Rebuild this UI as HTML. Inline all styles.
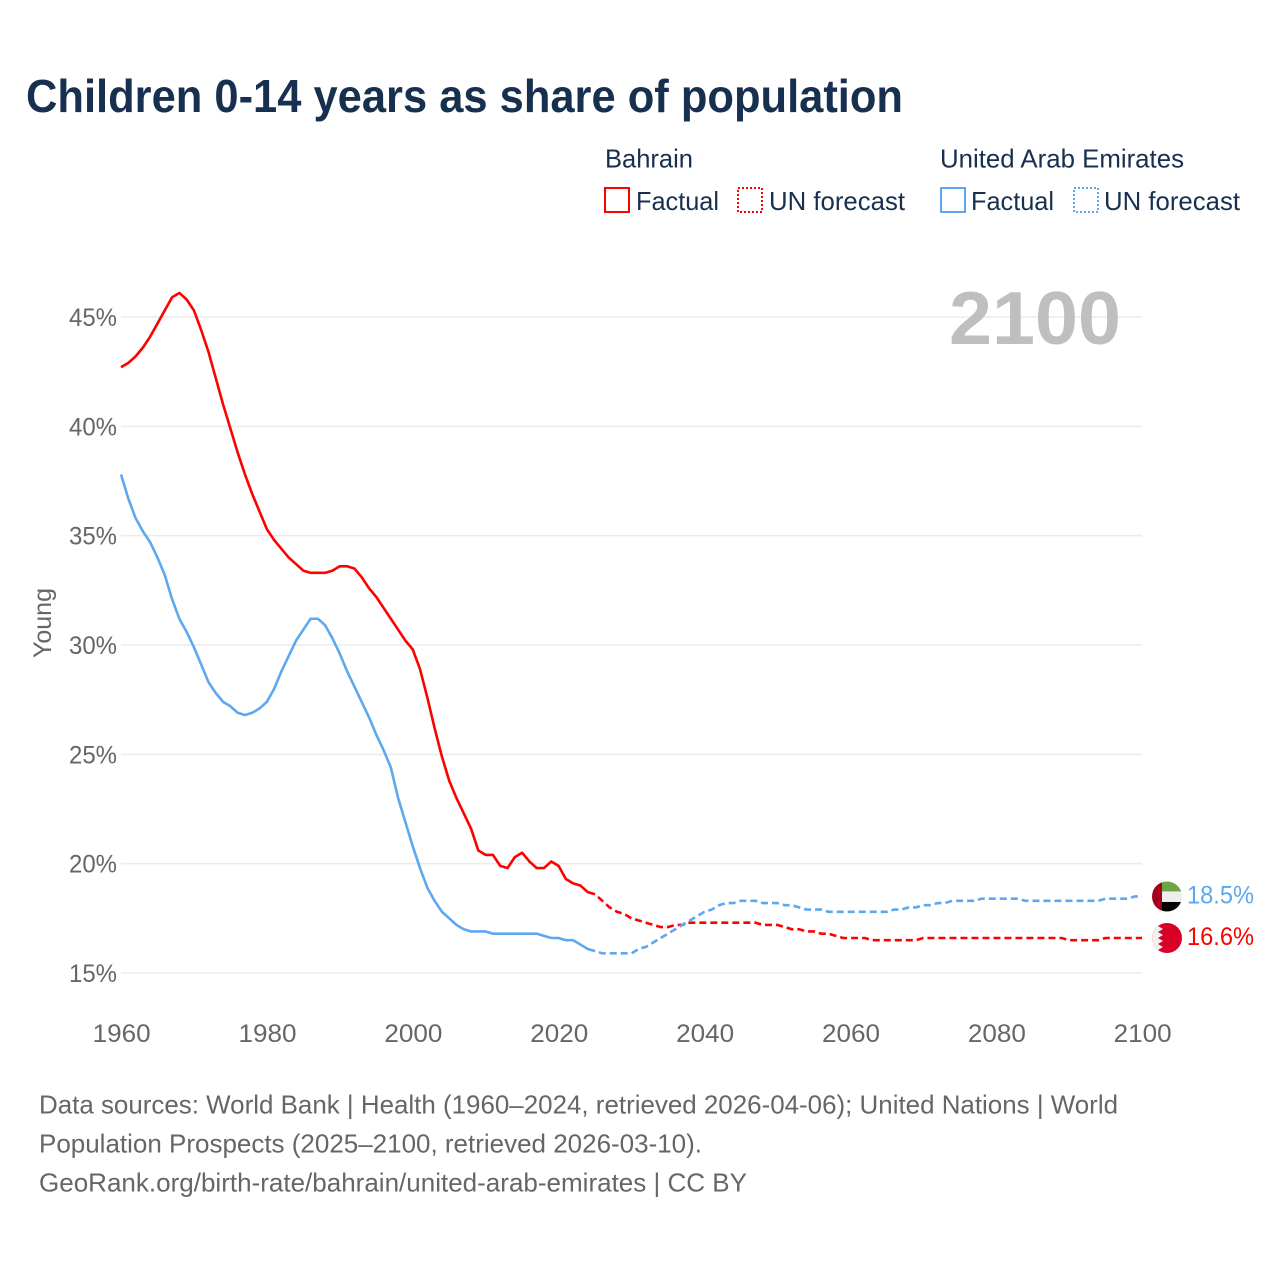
<!DOCTYPE html>
<html lang="en">
<head>
<meta charset="utf-8">
<title>Children 0-14 years as share of population</title>
<style>
html,body{margin:0;padding:0;background:#fff;}
svg{display:block;font-family:"Liberation Sans",sans-serif;}
</style>
</head>
<body>
<svg id="chart" width="1280" height="1280" viewBox="0 0 1280 1280" xmlns="http://www.w3.org/2000/svg">
  <defs>
    <clipPath id="flag-clip"><circle cx="0" cy="0" r="15"></circle></clipPath>
  </defs>
  <rect x="0" y="0" width="1280" height="1280" fill="#ffffff"></rect>
  <text x="26" y="112" font-size="46" font-weight="700" fill="#18304f" textLength="877" lengthAdjust="spacingAndGlyphs">Children 0-14 years as share of population</text>

  <g font-size="26" fill="#18304f">
    <text x="605" y="167.5" textLength="88" lengthAdjust="spacingAndGlyphs">Bahrain</text>
    <text x="940" y="167.5" textLength="244" lengthAdjust="spacingAndGlyphs">United Arab Emirates</text>
    <rect x="605" y="188" width="24" height="24" fill="none" stroke="#ff0000" stroke-width="2"></rect>
    <text x="636" y="210" textLength="83" lengthAdjust="spacingAndGlyphs">Factual</text>
    <rect x="738" y="188" width="24" height="24" fill="none" stroke="#ff0000" stroke-width="2" stroke-dasharray="2 2"></rect>
    <text x="769" y="210" textLength="136" lengthAdjust="spacingAndGlyphs">UN forecast</text>
    <rect x="941" y="188" width="24" height="24" fill="none" stroke="#5da8ee" stroke-width="2"></rect>
    <text x="971" y="210" textLength="83" lengthAdjust="spacingAndGlyphs">Factual</text>
    <rect x="1074" y="188" width="24" height="24" fill="none" stroke="#5da8ee" stroke-width="2" stroke-dasharray="2 2"></rect>
    <text x="1104" y="210" textLength="136" lengthAdjust="spacingAndGlyphs">UN forecast</text>
  </g>

  <g id="grid"></g>
  <text x="949" y="344" font-size="75" font-weight="700" fill="#bfbfbf" textLength="172" lengthAdjust="spacingAndGlyphs">2100</text>
  <g id="y-ticks" font-size="25" fill="#666666"></g>
  <g id="x-ticks" font-size="25" fill="#666666"></g>
  <text transform="translate(51 623) rotate(-90)" text-anchor="middle" font-size="25" fill="#666666" textLength="70" lengthAdjust="spacingAndGlyphs">Young</text>
  <g id="series"></g>
  <g id="ends"></g>

  <g font-size="26" fill="#666666">
    <text x="39" y="1113.5" textLength="1079" lengthAdjust="spacingAndGlyphs">Data sources: World Bank | Health (1960–2024, retrieved 2026-04-06); United Nations | World</text>
    <text x="39" y="1152.5" textLength="663" lengthAdjust="spacingAndGlyphs">Population Prospects (2025–2100, retrieved 2026-03-10).</text>
    <text x="39" y="1191.5" textLength="708" lengthAdjust="spacingAndGlyphs">GeoRank.org/birth-rate/bahrain/united-arab-emirates | CC BY</text>
  </g>
</svg>
<script>
const startYear = 1960;
const lastFactualYear = 2025;
const yTickValues = [15, 20, 25, 30, 35, 40, 45];
const xTickYears = [1960, 1980, 2000, 2020, 2040, 2060, 2080, 2100];
const bahrainValues = [
  42.7,42.9,43.2,43.6,44.1,44.7,45.3,45.9,46.1,45.8,
  45.3,44.4,43.4,42.2,41.0,39.9,38.8,37.8,36.9,36.1,
  35.3,34.8,34.4,34.0,33.7,33.4,33.3,33.3,33.3,33.4,
  33.6,33.6,33.5,33.1,32.6,32.2,31.7,31.2,30.7,30.2,
  29.8,28.9,27.6,26.2,24.9,23.8,23.0,22.3,21.6,20.6,
  20.4,20.4,19.9,19.8,20.3,20.5,20.1,19.8,19.8,20.1,
  19.9,19.3,19.1,19.0,18.7,18.6,18.3,18.0,17.8,17.7,
  17.5,17.4,17.3,17.2,17.1,17.1,17.2,17.2,17.3,17.3,
  17.3,17.3,17.3,17.3,17.3,17.3,17.3,17.3,17.2,17.2,
  17.2,17.1,17.0,17.0,16.9,16.9,16.8,16.8,16.7,16.6,
  16.6,16.6,16.6,16.5,16.5,16.5,16.5,16.5,16.5,16.5,
  16.6,16.6,16.6,16.6,16.6,16.6,16.6,16.6,16.6,16.6,
  16.6,16.6,16.6,16.6,16.6,16.6,16.6,16.6,16.6,16.6,
  16.5,16.5,16.5,16.5,16.5,16.6,16.6,16.6,16.6,16.6,16.6
];
const uaeValues = [
  37.8,36.7,35.8,35.2,34.7,34.0,33.2,32.1,31.2,30.6,
  29.9,29.1,28.3,27.8,27.4,27.2,26.9,26.8,26.9,27.1,
  27.4,28.0,28.8,29.5,30.2,30.7,31.2,31.2,30.9,30.3,
  29.6,28.8,28.1,27.4,26.7,25.9,25.2,24.4,23.0,21.9,
  20.8,19.8,18.9,18.3,17.8,17.5,17.2,17.0,16.9,16.9,
  16.9,16.8,16.8,16.8,16.8,16.8,16.8,16.8,16.7,16.6,
  16.6,16.5,16.5,16.3,16.1,16.0,15.9,15.9,15.9,15.9,
  15.9,16.1,16.2,16.4,16.6,16.8,17.0,17.2,17.4,17.6,
  17.8,17.9,18.1,18.2,18.2,18.3,18.3,18.3,18.2,18.2,
  18.2,18.1,18.1,18.0,17.9,17.9,17.9,17.8,17.8,17.8,
  17.8,17.8,17.8,17.8,17.8,17.8,17.9,17.9,18.0,18.0,
  18.1,18.1,18.2,18.2,18.3,18.3,18.3,18.3,18.4,18.4,
  18.4,18.4,18.4,18.4,18.3,18.3,18.3,18.3,18.3,18.3,
  18.3,18.3,18.3,18.3,18.3,18.4,18.4,18.4,18.4,18.5,18.5
];
const bahrainEndLabel = "16.6%";
const uaeEndLabel = "18.5%";

const SVG_NS = "http://www.w3.org/2000/svg";
const LEFT = 121, RIGHT = 1142;
function xScale(year) { return LEFT + (year - 1960) * (RIGHT - LEFT) / 140; }
function yScale(v) { return 973 - (v - 15) * (973 - 317) / 30; }
function make(tag, attrs) {
  const el = document.createElementNS(SVG_NS, tag);
  for (const k in attrs) el.setAttribute(k, attrs[k]);
  return el;
}
function pointsFor(values, fromYear, toYear) {
  const pts = [];
  values.forEach(function (v, i) {
    const yr = startYear + i;
    if (yr >= fromYear && yr <= toYear) pts.push(xScale(yr).toFixed(2) + "," + yScale(v).toFixed(2));
  });
  return pts.join(" ");
}

const grid = document.getElementById("grid");
const yTicks = document.getElementById("y-ticks");
yTickValues.forEach(function (v) {
  const line = make("line", { x1: LEFT, x2: RIGHT, y1: yScale(v), y2: yScale(v), stroke: "#ebebeb", "stroke-width": 1.5 });
  
  
  grid.appendChild(line);
  const t = make("text", { x: 117, y: yScale(v) + 9, "text-anchor": "end", textLength: 48, lengthAdjust: "spacingAndGlyphs" });
  
  
  t.textContent = v + "%";
  yTicks.appendChild(t);
});

const xTicks = document.getElementById("x-ticks");
xTickYears.forEach(function (yr) {
  const t = make("text", { x: xScale(yr) + 0.7, y: 1042, "text-anchor": "middle", textLength: 58, lengthAdjust: "spacingAndGlyphs" });
  
  
  t.textContent = yr;
  xTicks.appendChild(t);
});

const seriesG = document.getElementById("series");
const bahrainFactual = make("polyline", { points: pointsFor(bahrainValues, 1960, lastFactualYear), fill: "none", stroke: "#ff0000", "stroke-width": 2.6, "stroke-linejoin": "round" });


const bahrainForecast = make("polyline", { points: pointsFor(bahrainValues, lastFactualYear, 2100), fill: "none", stroke: "#ff0000", "stroke-width": 2.6, "stroke-dasharray": "7 4", "stroke-dashoffset": 7 });


const uaeFactual = make("polyline", { points: pointsFor(uaeValues, 1960, lastFactualYear), fill: "none", stroke: "#5da8ee", "stroke-width": 2.6, "stroke-linejoin": "round" });


const uaeForecast = make("polyline", { points: pointsFor(uaeValues, lastFactualYear, 2100), fill: "none", stroke: "#5da8ee", "stroke-width": 2.6, "stroke-dasharray": "7 4", "stroke-dashoffset": 7 });


seriesG.appendChild(bahrainForecast);
seriesG.appendChild(uaeForecast);
seriesG.appendChild(bahrainFactual);
seriesG.appendChild(uaeFactual);

const ends = document.getElementById("ends");
const uaeY = yScale(uaeValues[uaeValues.length - 1]);
const bahY = yScale(bahrainValues[bahrainValues.length - 1]);

const uaeFlag = make("g", { transform: "translate(1167 " + uaeY + ")", "clip-path": "url(#flag-clip)" });


uaeFlag.appendChild(make("rect", { x: -15, y: -15, width: 30, height: 10, fill: "#6da544" }));
uaeFlag.appendChild(make("rect", { x: -15, y: -5, width: 30, height: 10.5, fill: "#eeeeee" }));
uaeFlag.appendChild(make("rect", { x: -15, y: 5.5, width: 30, height: 9.5, fill: "#000000" }));
uaeFlag.appendChild(make("rect", { x: -15, y: -15, width: 10, height: 30, fill: "#a2001d" }));
ends.appendChild(uaeFlag);

const bahFlag = make("g", { transform: "translate(1167 " + bahY + ")", "clip-path": "url(#flag-clip)" });


bahFlag.appendChild(make("rect", { x: -15, y: -15, width: 30, height: 30, fill: "#d80027" }));
bahFlag.appendChild(make("path", { d: "M-15 -15H-4L-9 -12L-4 -9L-9 -6L-4 -3L-9 0L-4 3L-9 6L-4 9L-9 12L-4 15H-15Z", fill: "#f0f0f0" }));
ends.appendChild(bahFlag);

const uaeLabel = make("text", { x: 1187, y: uaeY + 7, "font-size": 25, fill: "#5da8ee", textLength: 67, lengthAdjust: "spacingAndGlyphs" });


uaeLabel.textContent = uaeEndLabel;
ends.appendChild(uaeLabel);

const bahLabel = make("text", { x: 1187, y: bahY + 7, "font-size": 25, fill: "#ff0000", textLength: 67, lengthAdjust: "spacingAndGlyphs" });


bahLabel.textContent = bahrainEndLabel;
ends.appendChild(bahLabel);
</script>
</body>
</html>
